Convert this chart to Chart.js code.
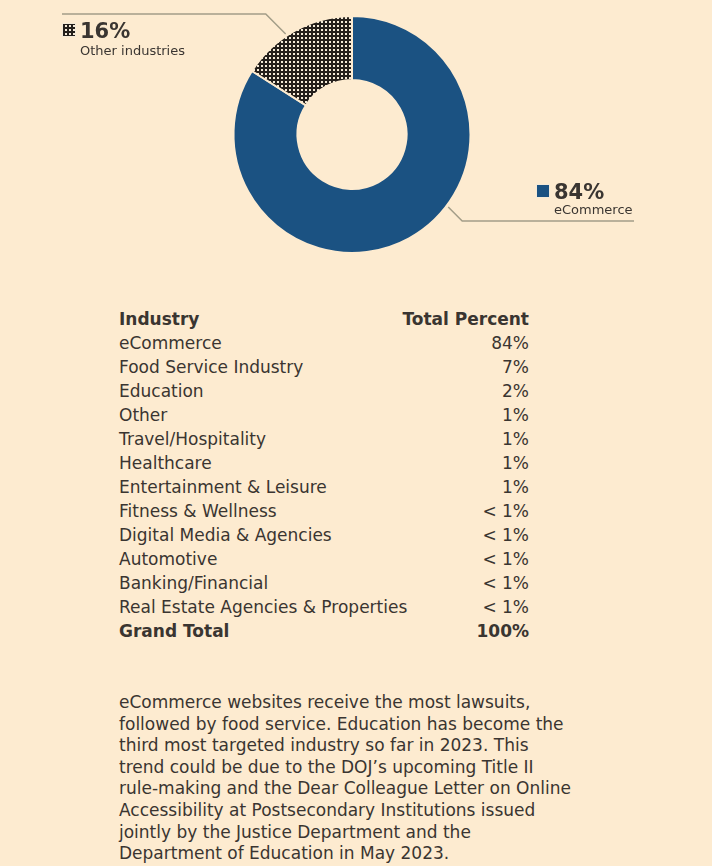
<!DOCTYPE html>
<html>
<head>
<meta charset="utf-8">
<script src="https://cdn.jsdelivr.net/npm/chart.js@4/dist/chart.umd.min.js"></script>
<style>
body{margin:0;background:#fdebd0;font-family:"DejaVu Sans",sans-serif;color:#3a3531;}
#wrap{position:relative;width:712px;height:866px;overflow:hidden;}
#pie{position:absolute;left:0;top:0;}
#tbl{position:absolute;left:119px;top:307px;width:410px;table-layout:fixed;border-collapse:collapse;font-size:17px;}
#tbl td{padding:0;height:24px;line-height:24px;white-space:nowrap;overflow:visible;}
#tbl td.v{text-align:right;width:130px;}
#tbl tr.b td{font-weight:bold;}
#note{position:absolute;left:119px;top:692px;font-size:17px;line-height:21.6px;white-space:nowrap;margin:0;}
</style>
</head>
<body>
<div id="wrap">
<canvas id="pie" width="712" height="270"></canvas>
<table id="tbl"></table>
<p id="note"></p>
</div>
<script>
// donut data
const sliceNames = ["eCommerce", "Other industries"];
const sliceValues = [84, 16];

// table data
const industries = ["eCommerce","Food Service Industry","Education","Other","Travel/Hospitality","Healthcare","Entertainment & Leisure","Fitness & Wellness","Digital Media & Agencies","Automotive","Banking/Financial","Real Estate Agencies & Properties"];
const percents = ["84%","7%","2%","1%","1%","1%","1%","< 1%","< 1%","< 1%","< 1%","< 1%"];
const tableHead = ["Industry","Total Percent"];
const tableTotal = ["Grand Total","100%"];

const noteLines = [
  "eCommerce websites receive the most lawsuits,",
  "followed by food service. Education has become the",
  "third most targeted industry so far in 2023. This",
  "trend could be due to the DOJ\u2019s upcoming Title II",
  "rule-making and the Dear Colleague Letter on Online",
  "Accessibility at Postsecondary Institutions issued",
  "jointly by the Justice Department and the",
  "Department of Education in May 2023."
];

const BG = "#fdebd0", BLUE = "#1b5282", INK = "#3a3531", LEAD = "#a39d88";

// dotted fill for the small slice
function makePattern(){
  const c = document.createElement("canvas");
  c.width = 4; c.height = 4;
  const g = c.getContext("2d");
  g.fillStyle = "#241f1b"; g.fillRect(0,0,4,4);
  g.fillStyle = "#f4ead8"; g.fillRect(1,1,2,2);
  return g.createPattern(c, "repeat");
}
const dots = makePattern();

// table
const tbl = document.getElementById("tbl");
function addRow(cells, bold){
  const tr = document.createElement("tr");
  if(bold) tr.className = "b";
  cells.forEach((t,i)=>{
    const td = document.createElement("td");
    td.textContent = t;
    if(i==1) td.className = "v";
    tr.appendChild(td);
  });
  tbl.appendChild(tr);
}
addRow(tableHead, true);
industries.forEach((n,i)=>addRow([n, percents[i]], false));
addRow(tableTotal, true);

const note = document.getElementById("note");
noteLines.forEach((l,i)=>{
  if(i) note.appendChild(document.createElement("br"));
  note.appendChild(document.createTextNode(l));
});

// leader lines + labels, anchored on the arcs
const callouts = [
  {lineY: 221, endX: 634, boxX: 536, pctY: 199, nameY: 214, fill: BLUE},
  {lineY: 14, endX: 62, boxX: 62, pctY: 38, nameY: 55, fill: dots}
];

const calloutPlugin = {
  id: "callouts",
  afterDraw(chart){
    const ctx = chart.ctx;
    const arcs = chart.getDatasetMeta(0).data;
    arcs.forEach((arc, i)=>{
      const c = callouts[i];
      const a = arc.startAngle + (arc.endAngle - arc.startAngle) * 0.42;
      const r = arc.outerRadius + 2;
      const ax = arc.x + Math.cos(a) * r, ay = arc.y + Math.sin(a) * r;
      const dy = c.lineY - ay;
      const ex = ax + (c.endX > ax ? Math.abs(dy) : -Math.abs(dy));
      ctx.save();
      ctx.strokeStyle = LEAD; ctx.lineWidth = 1.5;
      ctx.beginPath();
      ctx.moveTo(ax, ay); ctx.lineTo(ex, c.lineY); ctx.lineTo(c.endX, c.lineY);
      ctx.stroke();
      // key square
      const top = c.pctY - 15;
      ctx.fillStyle = c.fill;
      ctx.fillRect(c.boxX, top, 14, 14);
      ctx.strokeStyle = "#f4ead8"; ctx.lineWidth = 1;
      ctx.strokeRect(c.boxX + 0.5, top + 0.5, 13, 13);
      ctx.fillStyle = INK;
      ctx.textBaseline = "alphabetic";
      ctx.font = "bold 21px 'DejaVu Sans'";
      ctx.fillText(sliceValues[i] + "%", c.boxX + 18, c.pctY);
      ctx.font = "13px 'DejaVu Sans'";
      ctx.fillText(sliceNames[i], c.boxX + 18, c.nameY);
      ctx.restore();
    });
  }
};

new Chart(document.getElementById("pie"), {
  type: "doughnut",
  data: {
    labels: sliceNames,
    datasets: [{
      data: sliceValues,
      backgroundColor: [BLUE, dots],
      borderColor: BG,
      borderWidth: 2,
      hoverOffset: 0
    }]
  },
  options: {
    responsive: false,
    animation: false,
    cutout: "46%",
    layout: {padding: {top: 15, bottom: 16, left: 0, right: 8}},
    plugins: {legend: {display: false}, tooltip: {enabled: false}}
  },
  plugins: [calloutPlugin]
});
</script>
</body>
</html>
